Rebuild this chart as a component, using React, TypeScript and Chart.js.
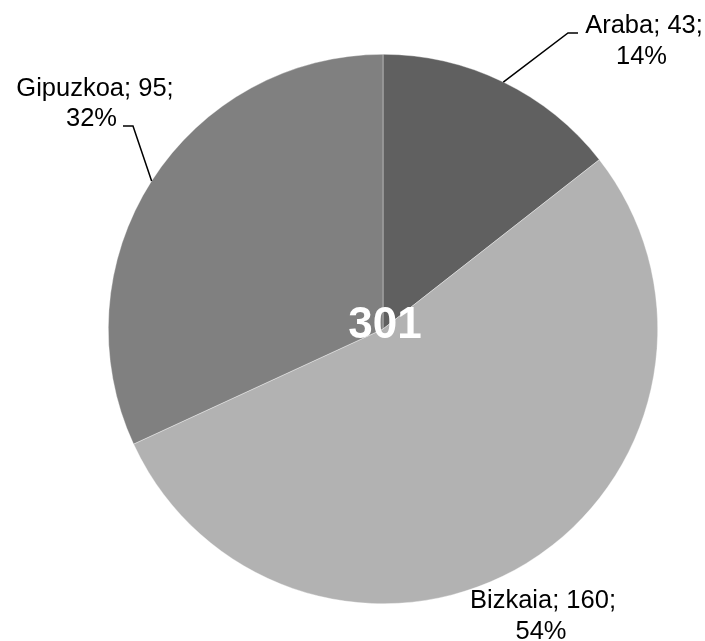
import React, { useEffect, useRef } from "react";
import { Chart, registerables } from "chart.js";

Chart.register(...registerables);

// ---- data ----
const categories = ["Araba", "Bizkaia", "Gipuzkoa"];
const values = [43, 160, 95];
const sliceColors = ["#606060", "#b2b2b2", "#808080"];
const centerTotal = "301";

// ---- label layout (positions only) ----
const labelLayout = [
  { cx1: 644, cx2: 641.5, y1: 33, y2: 64, elbow: [568, 33], end: [578, 33] },
  { cx1: 543, cx2: 541, y1: 608, y2: 639, elbow: null, end: null },
  { cx1: 95, cx2: 91.5, y1: 96, y2: 126, elbow: [133, 126], end: [123, 126] },
];

const FONT = '"Liberation Sans", Arial, Helvetica, sans-serif';

const labelPlugin = {
  id: "pieLabels",
  afterDatasetsDraw(chart: any) {
    const ctx = chart.ctx;
    const meta = chart.getDatasetMeta(0);
    const total = values.reduce((a, b) => a + b, 0);
    ctx.save();
    // center total
    const first = meta.data[0];
    ctx.fillStyle = "#ffffff";
    ctx.font = `bold 44px ${FONT}`;
    ctx.textAlign = "center";
    ctx.textBaseline = "alphabetic";
    ctx.fillText(centerTotal, first.x + 2, first.y + 9);

    meta.data.forEach((arc: any, i: number) => {
      const lay = labelLayout[i];
      const p = arc.getProps(["x", "y", "startAngle", "endAngle", "outerRadius"], true);
      const mid = (p.startAngle + p.endAngle) / 2;
      const ex = p.x + Math.cos(mid) * p.outerRadius;
      const ey = p.y + Math.sin(mid) * p.outerRadius;
      if (lay.elbow && lay.end) {
        ctx.strokeStyle = "#000000";
        ctx.lineWidth = 1.5;
        ctx.beginPath();
        ctx.moveTo(ex, ey);
        ctx.lineTo(lay.elbow[0], lay.elbow[1]);
        ctx.lineTo(lay.end[0], lay.end[1]);
        ctx.stroke();
      }
      const pct = Math.round((values[i] / total) * 100) + "%";
      ctx.fillStyle = "#000000";
      ctx.font = `25.5px ${FONT}`;
      ctx.textAlign = "center";
      ctx.fillText(`${categories[i]}; ${values[i]};`, lay.cx1, lay.y1);
      ctx.fillText(pct, lay.cx2, lay.y2);
    });
    ctx.restore();
  },
};

export default function App() {
  const ref = useRef<HTMLCanvasElement>(null);
  useEffect(() => {
    if (!ref.current) return;
    const chart = new Chart(ref.current, {
      type: "pie",
      data: {
        labels: categories,
        datasets: [
          {
            data: values,
            backgroundColor: sliceColors,
            borderColor: "rgba(255,255,255,0.6)",
            borderWidth: 0.6,
          },
        ],
      },
      options: {
        responsive: false,
        animation: false,
        layout: { padding: { left: 108, right: 47, top: 54, bottom: 37 } },
        plugins: {
          legend: { display: false },
          tooltip: { enabled: false },
        },
      },
      plugins: [labelPlugin],
    });
    return () => chart.destroy();
  }, []);
  return (
    <div style={{ position: "absolute", left: 0, top: 0, width: 705, height: 641, background: "#ffffff" }}>
      <canvas ref={ref} width={705} height={641} style={{ display: "block" }} />
    </div>
  );
}
